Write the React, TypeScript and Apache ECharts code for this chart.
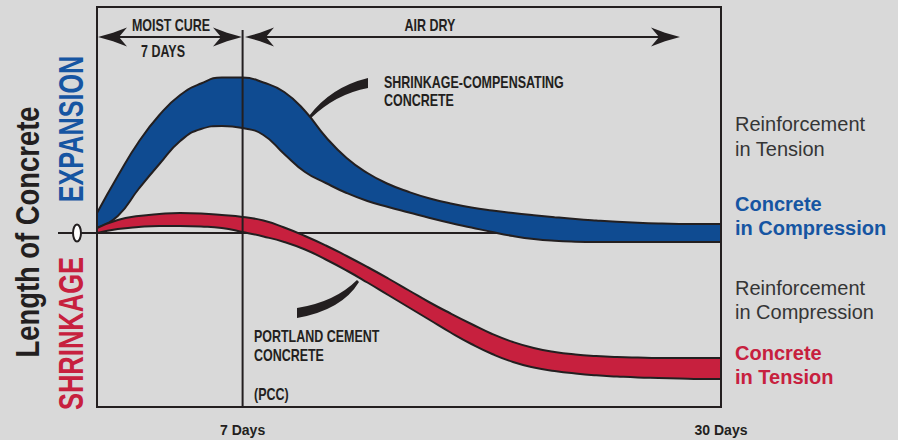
import React, { useEffect, useRef } from "react";
import * as echarts from "echarts";

// x categories: days 0..30
const days = Array.from({ length: 31 }, (_, i) => i);
// band edges (relative length change, arbitrary units, 0 = original length)
const scUpper = [20, 57, 91, 118, 138, 149.5, 155.5, 155.5, 150.5, 141, 122, 96, 75, 60, 49, 41, 34.5, 29.5, 25.5, 22.5, 20, 17.8, 15.8, 14, 12.5, 11.2, 10.2, 9.5, 9.1, 9, 9];
const scLower = [5, 17, 44, 69, 92, 104, 107, 105, 98, 79, 61, 50, 40, 32, 26, 20.5, 15, 10, 5.5, 1, -3, -6, -7.8, -8.7, -9, -9, -9, -9, -9, -9, -9];
const pccUpper = [5, 13, 17, 19, 20, 19.5, 18, 16, 12.5, 5.5, -3, -12.5, -23, -34, -45.5, -57.5, -69.5, -80.5, -91, -101, -109, -115, -119, -121.5, -123, -124, -124.6, -125, -125, -125, -125];
const pccLower = [0, 4, 6, 7, 7, 6.5, 5, 1, -3.5, -9, -16.5, -26.5, -37.5, -49.5, -62, -74.5, -87, -99.5, -111, -121, -129, -134.5, -138, -140.5, -142.3, -143.5, -144.5, -145, -145.5, -146, -146];
const xTickDays = [7, 30];
const cureEndDay = 7;
const yMin = -174;
const yMax = 226;

const BLUE = "#0f4b91";
const BLUE_TEXT = "#1655a2";
const RED = "#c7203e";
const INK = "#231f20";
const GRAY_TEXT = "#353535";
const BG = "#d9d9d9";
const SANS = "'Liberation Sans', Arial, Helvetica, sans-serif";
const COND = 0.78; // horizontal squeeze to imitate a condensed face

const SMOOTH = 0.5;

function diff(up: number[], lo: number[]) {
  return up.map((u, i) => u - lo[i]);
}

function arrowHead(tx: number, ty: number, dir: number) {
  return {
    type: "polygon",
    z: 50,
    shape: {
      points: [
        [tx, ty],
        [tx + dir * 15, ty - 4.2],
        [tx + dir * 29, ty - 9.5],
        [tx + dir * 21, ty],
        [tx + dir * 29, ty + 9.5],
        [tx + dir * 15, ty + 4.2],
      ],
    },
    style: { fill: INK },
  };
}

function label(text: string, x: number, y: number, opts: any = {}) {
  return {
    type: "text",
    x,
    y,
    z: 60,
    scaleX: opts.scaleX != null ? opts.scaleX : COND,
    style: {
      text,
      font: opts.font || `bold 16px ${SANS}`,
      fill: opts.fill || INK,
      align: opts.align || "left",
      verticalAlign: "middle",
    },
  };
}

function vertical(text: string, x: number, y: number, size: number, squeeze: number, fill: string) {
  return {
    type: "text",
    x,
    y,
    rotation: Math.PI / 2,
    scaleX: squeeze,
    z: 60,
    style: {
      text,
      font: `bold ${size}px ${SANS}`,
      fill,
      align: "center",
      verticalAlign: "middle",
    },
  };
}

export default function App() {
  const ref = useRef<HTMLDivElement>(null);

  useEffect(() => {
    if (!ref.current) return;
    echarts.graphic.registerShape(
      "leaderTop",
      echarts.graphic.extendPath("M309 116 Q331 87 368 78 L368 88 Q336 94 311 118 Z", {})
    );
    echarts.graphic.registerShape(
      "leaderBottom",
      echarts.graphic.extendPath("M357 280 Q335 302 297 308 L297 318 Q342 310 359 282 Z", {})
    );

    const chart = echarts.init(ref.current, null, { renderer: "svg" });

    const lineBase = {
      type: "line",
      smooth: SMOOTH,
      showSymbol: false,
      silent: true,
      lineStyle: { color: INK, width: 2 },
    };

    const option: any = {
      animation: false,
      backgroundColor: BG,
      grid: { left: 97, top: 7, right: 177, bottom: 33, show: false },
      xAxis: {
        type: "category",
        data: days,
        boundaryGap: false,
        axisLine: { show: false },
        axisTick: { show: false },
        splitLine: { show: false },
        axisLabel: {
          interval: (idx: number) => xTickDays.indexOf(idx) >= 0,
          formatter: (v: string) => `${v} Days`,
          fontFamily: SANS,
          fontWeight: "bold",
          fontSize: 14,
          color: INK,
          margin: 16,
        },
      },
      yAxis: {
        type: "value",
        min: yMin,
        max: yMax,
        show: false,
        splitLine: { show: false },
      },
      series: [
        {
          type: "line",
          name: "zero",
          data: [
            [0, 0],
            [30, 0],
          ],
          showSymbol: false,
          silent: true,
          lineStyle: { color: INK, width: 2 },
          z: 1,
        },
        {
          ...lineBase,
          name: "Shrinkage-compensating lower",
          stack: "sc",
          stackStrategy: "all",
          data: scLower,
          z: 3,
        },
        {
          ...lineBase,
          name: "Shrinkage-compensating",
          stack: "sc",
          stackStrategy: "all",
          data: diff(scUpper, scLower),
          areaStyle: { color: BLUE, opacity: 1 },
          z: 2,
        },
        {
          ...lineBase,
          name: "PCC lower",
          stack: "pcc",
          stackStrategy: "all",
          data: pccLower,
          z: 5,
        },
        {
          ...lineBase,
          name: "Portland cement concrete",
          stack: "pcc",
          stackStrategy: "all",
          data: diff(pccUpper, pccLower),
          areaStyle: { color: RED, opacity: 1 },
          z: 4,
        },
        {
          type: "line",
          name: "7 days",
          data: [
            [cureEndDay, 203],
            [cureEndDay, yMin],
          ],
          showSymbol: false,
          silent: true,
          lineStyle: { color: INK, width: 2 },
          z: 10,
        },
      ],
      graphic: [
        {
          type: "rect",
          z: 100,
          shape: { x: 97, y: 7, width: 624, height: 400 },
          style: { fill: "none", stroke: INK, lineWidth: 2 },
        },
        {
          type: "line",
          z: 50,
          shape: { x1: 58, y1: 233, x2: 97, y2: 233 },
          style: { stroke: INK, lineWidth: 2 },
        },
        {
          type: "ellipse",
          z: 51,
          shape: { cx: 77, cy: 233, rx: 4, ry: 8.5 },
          style: { fill: "#ffffff", stroke: INK, lineWidth: 2 },
        },
        {
          type: "line",
          z: 50,
          shape: { x1: 110, y1: 37, x2: 232, y2: 37 },
          style: { stroke: INK, lineWidth: 2 },
        },
        arrowHead(98, 37, 1),
        arrowHead(242, 37, -1),
        {
          type: "line",
          z: 50,
          shape: { x1: 256, y1: 37, x2: 668, y2: 37 },
          style: { stroke: INK, lineWidth: 2 },
        },
        arrowHead(245, 37, 1),
        arrowHead(680, 37, -1),
        label("MOIST CURE", 171, 25, { align: "center" }),
        label("7 DAYS", 163, 51, { align: "center" }),
        label("AIR DRY", 430, 25, { align: "center" }),
        { type: "leaderTop", x: 0, y: 0, z: 55, style: { fill: INK } },
        { type: "leaderBottom", x: 0, y: 0, z: 55, style: { fill: INK } },
        label("SHRINKAGE-COMPENSATING", 384, 82),
        label("CONCRETE", 384, 100.5),
        label("PORTLAND CEMENT", 254, 336),
        label("CONCRETE", 254, 355),
        label("(PCC)", 254, 394),
        vertical("Length of Concrete", 28, 232, 33, 0.83, INK),
        vertical("EXPANSION", 70, 129, 35, 0.72, BLUE_TEXT),
        vertical("SHRINKAGE", 70, 333.5, 35, 0.73, RED),
        label("Reinforcement", 735, 124, { font: `20px ${SANS}`, fill: GRAY_TEXT, scaleX: 1 }),
        label("in Tension", 735, 148.5, { font: `20px ${SANS}`, fill: GRAY_TEXT, scaleX: 1 }),
        label("Concrete", 735, 203.5, { font: `bold 20px ${SANS}`, fill: BLUE_TEXT, scaleX: 1 }),
        label("in Compression", 735, 228, { font: `bold 20px ${SANS}`, fill: BLUE_TEXT, scaleX: 1 }),
        label("Reinforcement", 735, 287.5, { font: `20px ${SANS}`, fill: GRAY_TEXT, scaleX: 1 }),
        label("in Compression", 735, 312, { font: `20px ${SANS}`, fill: GRAY_TEXT, scaleX: 1 }),
        label("Concrete", 735, 352.5, { font: `bold 20px ${SANS}`, fill: RED, scaleX: 1 }),
        label("in Tension", 735, 377, { font: `bold 20px ${SANS}`, fill: RED, scaleX: 1 }),
      ],
    };

    chart.setOption(option);
    return () => {
      chart.dispose();
    };
  }, []);

  return (
    <div
      ref={ref}
      style={{ position: "fixed", left: 0, top: 0, width: 898, height: 440 }}
    />
  );
}
